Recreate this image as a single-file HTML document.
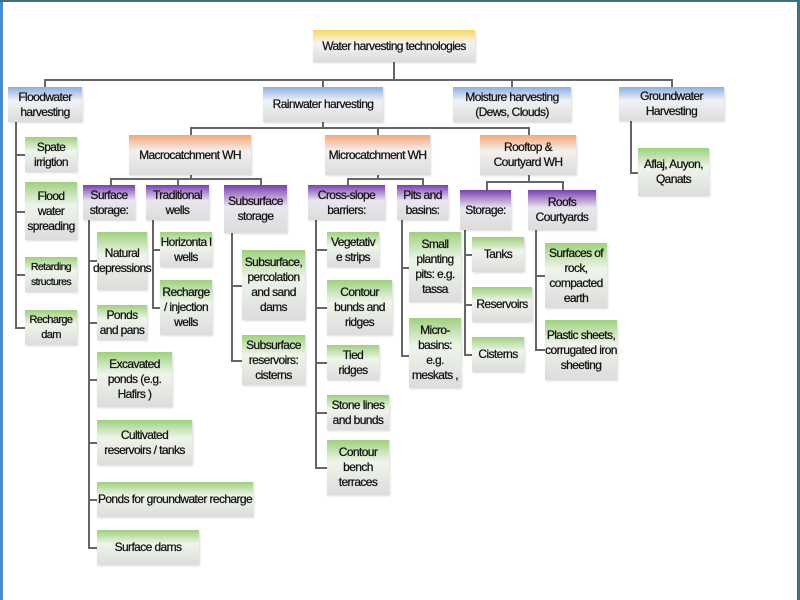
<!DOCTYPE html><html><head><style>
body{margin:0;width:800px;height:600px;background:#fff;position:relative;overflow:hidden;font-family:"Liberation Sans",sans-serif;}
.b{position:absolute;display:flex;align-items:center;justify-content:center;text-align:center;font-size:12px;line-height:15px;color:#111;letter-spacing:-0.6px;box-sizing:border-box;box-shadow:1px 1px 2px rgba(0,0,0,.15);-webkit-text-stroke:0.25px #111}
.y{background:linear-gradient(#f9d862,#f4f4f4 40%,#dcdcdc)}
.u{background:linear-gradient(#8eaee0,#f0f2f6 40%,#dcdcdc)}
.o{background:linear-gradient(#f5a77a,#f4f0ee 40%,#dcdcdc)}
.p{background:linear-gradient(#7a3fb0,#eae6f0 45%,#dcdcdc)}
.g{background:linear-gradient(#9fd07f,#eef5ea 40%,#dcdcdc)}
.h{position:absolute;height:2px;background:#666}
.v{position:absolute;width:2px;background:#666}
</style></head><body>
<div style="position:absolute;left:0;top:0;width:3px;height:600px;background:#4a8bd0"></div>
<div style="position:absolute;left:0;top:0;width:800px;height:2px;background:#3f6f80"></div>
<div style="position:absolute;left:797px;top:0;width:3px;height:600px;background:#3f6f80"></div>

<div class="v" style="left:393px;top:62px;height:18px"></div>
<div class="h" style="left:44px;top:79px;width:629px"></div>
<div class="v" style="left:44px;top:79px;height:8px"></div>
<div class="v" style="left:322px;top:79px;height:8px"></div>
<div class="v" style="left:511px;top:79px;height:8px"></div>
<div class="v" style="left:671px;top:79px;height:8px"></div>

<div class="v" style="left:322px;top:122px;height:6px"></div>
<div class="h" style="left:190px;top:127px;width:340px"></div>
<div class="v" style="left:190px;top:127px;height:8px"></div>
<div class="v" style="left:377px;top:127px;height:8px"></div>
<div class="v" style="left:528px;top:127px;height:8px"></div>

<div class="v" style="left:190px;top:175px;height:4px"></div>
<div class="h" style="left:110px;top:178px;width:152px"></div>
<div class="v" style="left:110px;top:178px;height:7px"></div>
<div class="v" style="left:177px;top:178px;height:7px"></div>
<div class="v" style="left:260px;top:178px;height:7px"></div>

<div class="v" style="left:377px;top:175px;height:4px"></div>
<div class="h" style="left:347px;top:178px;width:77px"></div>
<div class="v" style="left:347px;top:178px;height:7px"></div>
<div class="v" style="left:422px;top:178px;height:7px"></div>

<div class="v" style="left:528px;top:175px;height:7px"></div>
<div class="h" style="left:486px;top:181px;width:78px"></div>
<div class="v" style="left:486px;top:181px;height:9px"></div>
<div class="v" style="left:562px;top:181px;height:9px"></div>

<div class="v" style="left:15px;top:122px;height:207px"></div>
<div class="h" style="left:15px;top:154px;width:10px"></div>
<div class="h" style="left:15px;top:211px;width:10px"></div>
<div class="h" style="left:15px;top:274px;width:10px"></div>
<div class="h" style="left:15px;top:327px;width:10px"></div>

<div class="v" style="left:88px;top:220px;height:328px"></div>
<div class="h" style="left:88px;top:260px;width:9px"></div>
<div class="h" style="left:88px;top:322px;width:9px"></div>
<div class="h" style="left:88px;top:379px;width:9px"></div>
<div class="h" style="left:88px;top:442px;width:9px"></div>
<div class="h" style="left:88px;top:499px;width:9px"></div>
<div class="h" style="left:88px;top:547px;width:9px"></div>

<div class="v" style="left:152px;top:220px;height:88px"></div>
<div class="h" style="left:152px;top:249px;width:8px"></div>
<div class="h" style="left:152px;top:307px;width:8px"></div>

<div class="v" style="left:231px;top:233px;height:128px"></div>
<div class="h" style="left:231px;top:285px;width:11px"></div>
<div class="h" style="left:231px;top:360px;width:11px"></div>

<div class="v" style="left:315px;top:220px;height:248px"></div>
<div class="h" style="left:315px;top:249px;width:12px"></div>
<div class="h" style="left:315px;top:307px;width:12px"></div>
<div class="h" style="left:315px;top:362px;width:12px"></div>
<div class="h" style="left:315px;top:412px;width:12px"></div>
<div class="h" style="left:315px;top:467px;width:12px"></div>

<div class="v" style="left:401px;top:220px;height:136px"></div>
<div class="h" style="left:401px;top:267px;width:8px"></div>
<div class="h" style="left:401px;top:355px;width:8px"></div>

<div class="v" style="left:464px;top:230px;height:125px"></div>
<div class="h" style="left:464px;top:254px;width:8px"></div>
<div class="h" style="left:464px;top:304px;width:8px"></div>
<div class="h" style="left:464px;top:354px;width:8px"></div>

<div class="v" style="left:535px;top:230px;height:120px"></div>
<div class="h" style="left:535px;top:275px;width:10px"></div>
<div class="h" style="left:535px;top:349px;width:10px"></div>

<div class="v" style="left:630px;top:121px;height:52px"></div>
<div class="h" style="left:630px;top:172px;width:8px"></div>

<div class="b y" style="left:313px;top:30px;width:162px;height:32px">Water harvesting technologies</div>
<div class="b u" style="left:8px;top:87px;width:74px;height:35px">Floodwater harvesting</div>
<div class="b u" style="left:263px;top:87px;width:120px;height:35px">Rainwater harvesting</div>
<div class="b u" style="left:453px;top:87px;width:118px;height:35px">Moisture harvesting (Dews, Clouds)</div>
<div class="b u" style="left:619px;top:87px;width:105px;height:34px">Groundwater Harvesting</div>

<div class="b o" style="left:129px;top:135px;width:122px;height:40px">Macrocatchment WH</div>
<div class="b o" style="left:325px;top:135px;width:105px;height:40px">Microcatchment WH</div>
<div class="b o" style="left:480px;top:135px;width:96px;height:40px">Rooftop &amp; Courtyard WH</div>

<div class="b p" style="left:83px;top:185px;width:52px;height:35px">Surface storage:</div>
<div class="b p" style="left:146px;top:185px;width:63px;height:35px">Traditional wells</div>
<div class="b p" style="left:224px;top:185px;width:63px;height:48px">Subsurface storage</div>
<div class="b p" style="left:308px;top:185px;width:77px;height:35px">Cross-slope barriers:</div>
<div class="b p" style="left:397px;top:185px;width:51px;height:35px">Pits and basins:</div>
<div class="b p" style="left:460px;top:190px;width:51px;height:40px">Storage:</div>
<div class="b p" style="left:528px;top:190px;width:68px;height:40px">Roofs Courtyards</div>

<div class="b g" style="left:25px;top:137px;width:52px;height:35px">Spate irrigtion</div>
<div class="b g" style="left:25px;top:182px;width:52px;height:58px">Flood water spreading</div>
<div class="b g" style="left:25px;top:257px;width:52px;height:35px;font-size:10.5px">Retarding structures</div>
<div class="b g" style="left:25px;top:310px;width:52px;height:35px;font-size:11px">Recharge dam</div>

<div class="b g" style="left:97px;top:232px;width:50px;height:58px">Natural depressions</div>
<div class="b g" style="left:97px;top:305px;width:50px;height:35px">Ponds and pans</div>
<div class="b g" style="left:97px;top:352px;width:75px;height:55px">Excavated ponds (e.g. Hafirs )</div>
<div class="b g" style="left:97px;top:420px;width:95px;height:45px">Cultivated reservoirs / tanks</div>
<div class="b g" style="left:97px;top:482px;width:156px;height:35px">Ponds for groundwater recharge</div>
<div class="b g" style="left:97px;top:530px;width:102px;height:35px">Surface dams</div>

<div class="b g" style="left:160px;top:232px;width:52px;height:35px">Horizonta l wells</div>
<div class="b g" style="left:160px;top:280px;width:52px;height:55px">Recharge / injection wells</div>

<div class="b g" style="left:242px;top:250px;width:63px;height:70px">Subsurface, percolation and sand dams</div>
<div class="b g" style="left:242px;top:335px;width:63px;height:50px">Subsurface reservoirs: cisterns</div>

<div class="b g" style="left:327px;top:232px;width:52px;height:35px">Vegetativ e strips</div>
<div class="b g" style="left:327px;top:280px;width:65px;height:55px">Contour bunds and ridges</div>
<div class="b g" style="left:327px;top:345px;width:52px;height:35px">Tied ridges</div>
<div class="b g" style="left:327px;top:395px;width:62px;height:35px">Stone lines and bunds</div>
<div class="b g" style="left:327px;top:440px;width:62px;height:55px">Contour bench terraces</div>

<div class="b g" style="left:409px;top:232px;width:52px;height:70px">Small planting pits: e.g. tassa</div>
<div class="b g" style="left:409px;top:318px;width:52px;height:70px">Micro-basins: e.g. meskats ,</div>

<div class="b g" style="left:472px;top:237px;width:52px;height:35px">Tanks</div>
<div class="b g" style="left:472px;top:287px;width:60px;height:35px">Reservoirs</div>
<div class="b g" style="left:472px;top:337px;width:52px;height:35px">Cisterns</div>

<div class="b g" style="left:545px;top:243px;width:62px;height:65px">Surfaces of rock, compacted earth</div>
<div class="b g" style="left:545px;top:320px;width:72px;height:60px">Plastic sheets, corrugated iron sheeting</div>

<div class="b g" style="left:638px;top:148px;width:71px;height:48px">Aflaj, Auyon, Qanats</div>
</body></html>
